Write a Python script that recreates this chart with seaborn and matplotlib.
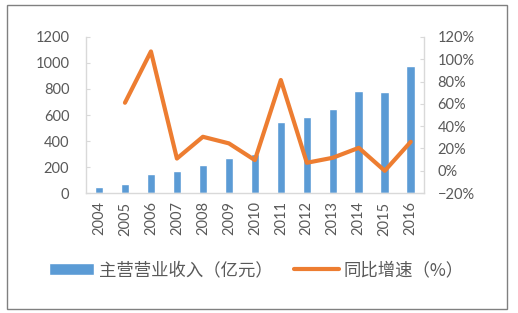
import numpy as np
import pandas as pd
import matplotlib
matplotlib.use('Agg')
import matplotlib.pyplot as plt
import seaborn as sns
from matplotlib.patches import Rectangle
from matplotlib.ticker import PercentFormatter

# data
years = ['2004', '2005', '2006', '2007', '2008', '2009', '2010',
         '2011', '2012', '2013', '2014', '2015', '2016']
revenue = [44, 72, 148, 167, 218, 272, 297, 544, 582, 646, 782, 777, 979]
growth = [np.nan, 61, 107, 11, 30.5, 24.6, 9.6, 81.4, 7.2, 11.7, 20.6, 0, 26]

bar_label = '主营营业收入（亿元）'
line_label = '同比增速（%）'

df = pd.DataFrame({'year': years, 'revenue': revenue, 'growth': growth})
df['pos'] = np.arange(len(df))

sns.set_style('white')
plt.rcParams['font.family'] = ['Lato', 'Noto Sans CJK SC', 'DejaVu Sans']

blue = '#5B9BD5'
orange = '#ED7D31'
grey_txt = '#595959'
grey_ax = '#D9D9D9'

fig = plt.figure(figsize=(5.18, 3.13), dpi=100)
ax = fig.add_axes([0.166, 0.383, 0.652, 0.499])

sns.barplot(data=df, x='year', y='revenue', color=blue, width=0.33,
            saturation=1, ax=ax, label=bar_label)
if ax.get_legend() is not None:
    ax.get_legend().remove()
ax.set_ylim(0, 1200)
ax.set_yticks(range(0, 1201, 200))
ax.set_xlim(-0.5, len(years) - 0.5)
ax.set_xlabel('')
ax.set_ylabel('')

ax2 = ax.twinx()
sns.lineplot(data=df.dropna(), x='pos', y='growth', color=orange,
             linewidth=3, ax=ax2, label=line_label, legend=False)
if ax2.get_legend() is not None:
    ax2.get_legend().remove()
ax2.set_ylim(-20, 120)
ax2.set_yticks(range(-20, 121, 20))
ax2.yaxis.set_major_formatter(PercentFormatter(decimals=0))
ax2.set_ylabel('')
ax2.set_xlim(-0.5, len(years) - 0.5)

for a in (ax, ax2):
    for s in a.spines.values():
        s.set_visible(False)
ax.spines['left'].set_visible(True)
ax.spines['bottom'].set_visible(True)
ax2.spines['right'].set_visible(True)
for s in (ax.spines['left'], ax.spines['bottom'], ax2.spines['right']):
    s.set_color(grey_ax)
    s.set_linewidth(1)

ax.tick_params(axis='y', direction='in', length=3, color=grey_ax,
               labelsize=10.5, labelcolor=grey_txt, pad=12)
ax.tick_params(axis='x', length=0, labelsize=10.5, labelcolor=grey_txt,
               rotation=90, pad=6)
ax2.tick_params(axis='y', direction='in', length=3, color=grey_ax,
                labelsize=10.5, labelcolor=grey_txt, pad=10)

h1, l1 = ax.get_legend_handles_labels()
h2, l2 = ax2.get_legend_handles_labels()
fig.legend(h1 + h2, l1 + l2, loc='center', bbox_to_anchor=(0.495, 0.137),
           ncol=2, frameon=False, labelcolor=grey_txt,
           handlelength=2.6, handletextpad=0.3, columnspacing=1.2,
           prop={'family': ['Noto Sans CJK SC'], 'size': 12.5})

# outer chart frame
fig.patches.append(Rectangle((7 / 518, 4 / 313), 500 / 518, 304 / 313,
                             transform=fig.transFigure, fill=False,
                             edgecolor='#808080', linewidth=1))

fig.savefig('out.png', dpi=100)
